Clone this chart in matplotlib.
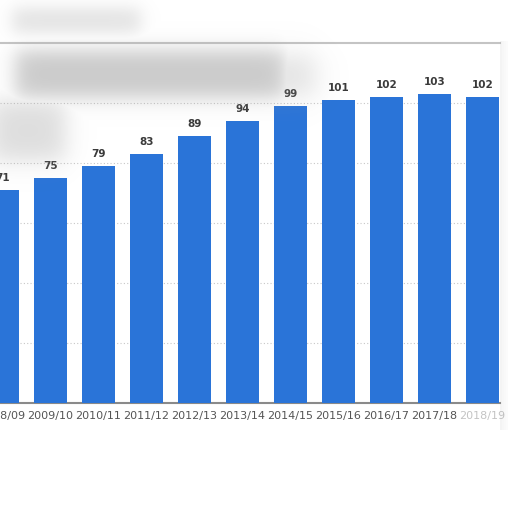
import matplotlib
matplotlib.use("Agg")
import numpy as np
import matplotlib.pyplot as plt
from matplotlib.patches import Rectangle

seasons = ["2008/09", "2009/10", "2010/11", "2011/12", "2012/13", "2013/14",
           "2014/15", "2015/16", "2016/17", "2017/18", "2018/19"]
values = [71, 75, 79, 83, 89, 94, 99, 101, 102, 103, 102]

fig = plt.figure(figsize=(5.12, 5.12), dpi=100)
ax = fig.add_axes([0.0, 0.2129, 0.9766, 0.703])

x = list(range(len(seasons)))
ax.bar(x, values, width=0.6875, color="#2a74d8", zorder=3)

for xi, v in zip(x, values):
    ax.annotate(str(v), (xi, v), xytext=(0, 5), textcoords="offset points",
                ha="center", va="bottom", fontsize=7.5, fontweight="bold",
                color="#3a3a3a", zorder=4)

ax.set_xlim(-0.052, 10.365)
ax.set_ylim(0, 120)
ax.set_yticks([20, 40, 60, 80, 100])
ax.yaxis.grid(True, linestyle=(0, (1, 2)), color="#c8c8c8", linewidth=0.8, zorder=0)
ax.tick_params(axis="y", left=False, labelleft=False)
ax.set_xticks(x)
ax.set_xticklabels(seasons, fontsize=8, color="#555555")
ax.tick_params(axis="x", length=0, pad=6)
ax.get_xticklabels()[-1].set_alpha(0.35)

for side in ["left", "right"]:
    ax.spines[side].set_visible(False)
ax.spines["top"].set_color("#c4c4c4")
ax.spines["top"].set_linewidth(1.5)
ax.spines["bottom"].set_color("#8a8a8a")
ax.spines["bottom"].set_linewidth(1.5)

# soft shadow on the right edge of the panel
for i, a in enumerate([0.10, 0.07, 0.05, 0.03]):
    fig.patches.append(Rectangle((0.9766 + i * 0.004, 0.16), 0.004, 0.76,
                                 transform=fig.transFigure, color="#9a9a9a",
                                 alpha=a, linewidth=0))

# blurred (hidden) title area, drawn as a smooth overlay image
ov = fig.add_axes([0, 0, 1, 1], zorder=2)
ov.set_axis_off()
yy, xx = np.mgrid[0:512, 0:512]


def soft_box(x0, x1, y0, y1, s):
    fx = 1 / (1 + np.exp(-(xx - x0) / s)) * 1 / (1 + np.exp((xx - x1) / s))
    fy = 1 / (1 + np.exp(-(yy - y0) / s)) * 1 / (1 + np.exp((yy - y1) / s))
    return fx * fy


alpha = np.maximum.reduce([
    0.55 * soft_box(15, 285, 50, 97, 6),
    0.30 * soft_box(230, 315, 55, 95, 8),
    0.30 * soft_box(12, 140, 8, 32, 5),
    0.35 * soft_box(-10, 65, 100, 160, 7),
])
img = np.zeros((512, 512, 4))
img[..., :3] = 0.62
img[..., 3] = alpha
ov.imshow(img, extent=(0, 1, 0, 1), origin="upper", aspect="auto")
ov.set_xlim(0, 1)
ov.set_ylim(0, 1)

fig.savefig("out.png", dpi=100)
